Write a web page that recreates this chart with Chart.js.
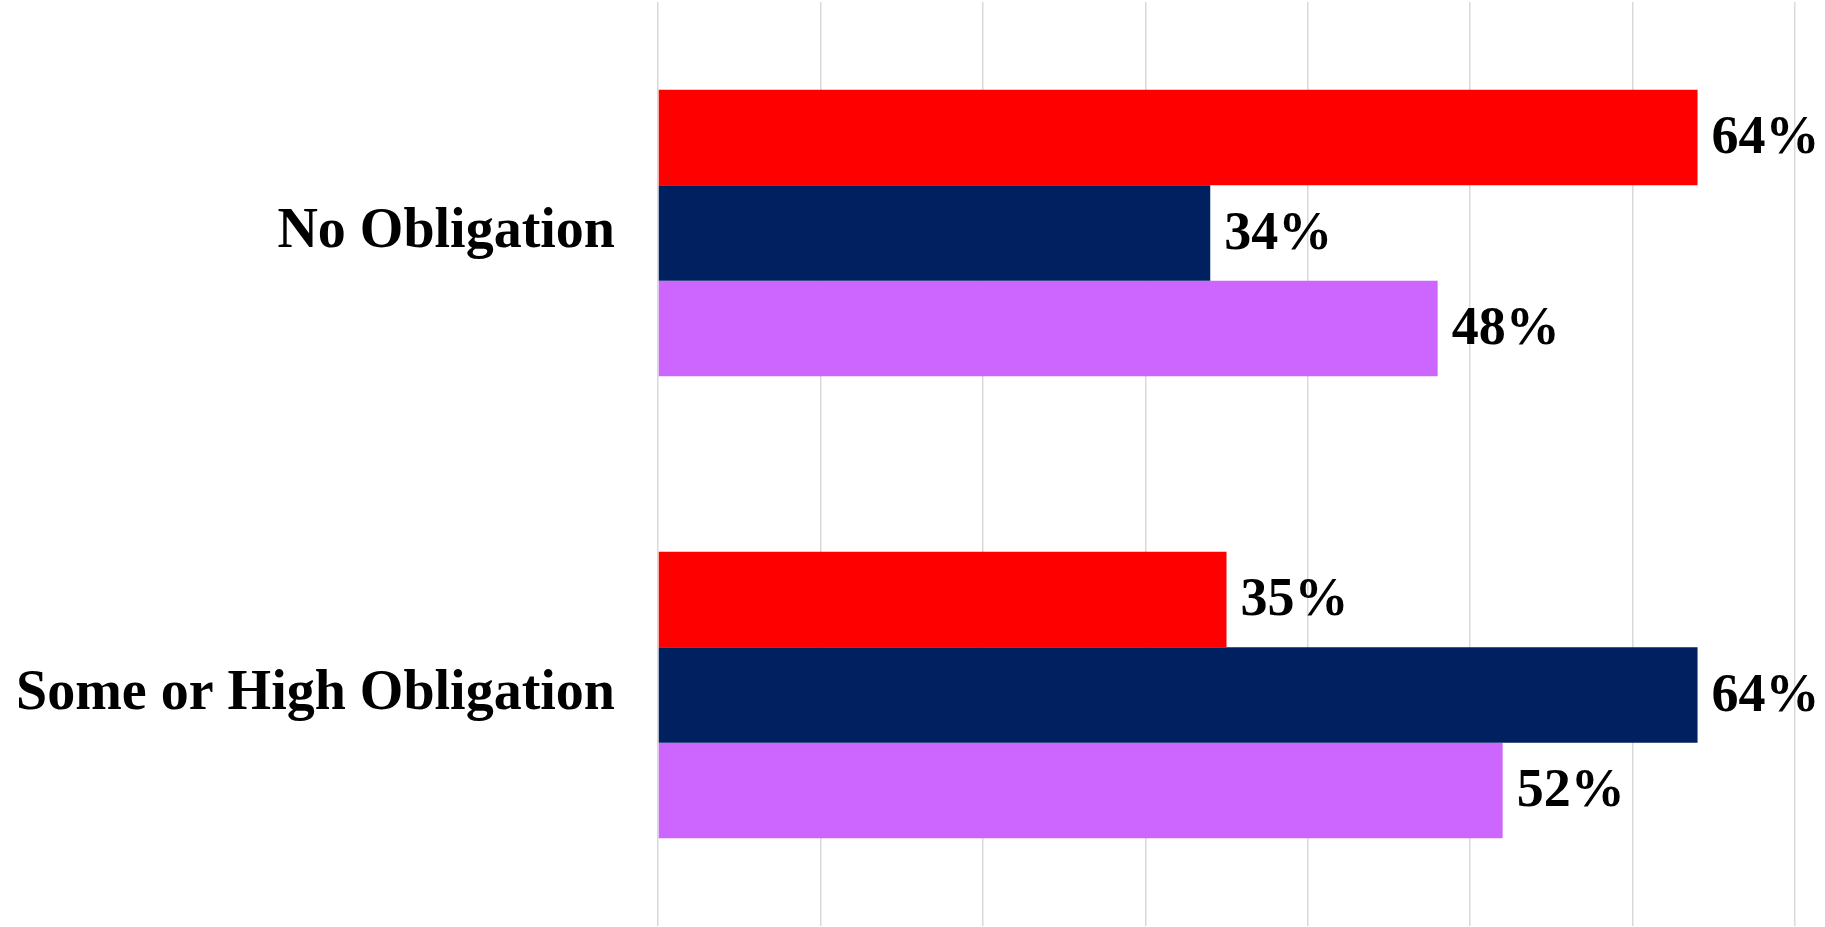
<!DOCTYPE html>
<html>
<head>
<meta charset="utf-8">
<script src="https://cdn.jsdelivr.net/npm/chart.js@4"></script>
<style>
  html, body { margin: 0; padding: 0; background: #fff; }
  #wrap { width: 1825px; height: 927px; position: relative; }
</style>
</head>
<body>
<div id="wrap"><canvas id="myChart"></canvas></div>
<script>
// categories and series values
var categories = ['No Obligation', 'Some or High Obligation'];
var seriesNames = ['Republicans', 'Democrats', 'Independents'];
var redValues = [64, 35];
var navyValues = [34, 64];
var purpleValues = [48, 52];
var colors = ['#FF0000', '#002060', '#CC66FF'];
var xTicks = [0, 10, 20, 30, 40, 50, 60, 70];

var serif = '"Liberation Serif", "Times New Roman", serif';

// draws the "64%" style labels at the end of each bar
var endLabels = {
    id: 'endLabels',
    afterDatasetsDraw: function (chart) {
        var ctx = chart.ctx;
        ctx.save();
        ctx.font = 'bold 54px ' + serif;
        ctx.fillStyle = '#000';
        ctx.textAlign = 'left';
        ctx.textBaseline = 'middle';
        chart.data.datasets.forEach(function (ds, i) {
            chart.getDatasetMeta(i).data.forEach(function (bar, j) {
                ctx.fillText(ds.data[j] + '%', bar.x + 14, bar.y + 2);
            });
        });
        ctx.restore();
    }
};

var ctx = document.getElementById('myChart').getContext('2d');
var chart = new Chart(ctx, {
    type: 'bar',
    data: {
        labels: categories,
        datasets: [
            { label: seriesNames[0], backgroundColor: colors[0], data: redValues },
            { label: seriesNames[1], backgroundColor: colors[1], data: navyValues },
            { label: seriesNames[2], backgroundColor: colors[2], data: purpleValues }
        ]
    },
    options: {
        indexAxis: 'y',
        responsive: true,
        maintainAspectRatio: false,
        animation: false,
        layout: { padding: { top: 2, bottom: 1, right: 30, left: 0 } },
        datasets: {
            bar: { barPercentage: 1, categoryPercentage: 0.62 }
        },
        plugins: {
            legend: { display: false },
            tooltip: { enabled: false }
        },
        scales: {
            x: {
                min: 0,
                max: 70,
                afterBuildTicks: function (scale) {
                    scale.ticks = xTicks.map(function (v) { return { value: v }; });
                },
                afterFit: function (scale) { scale.height = 0; },
                ticks: { display: false },
                border: { display: false },
                grid: { color: '#d9d9d9', lineWidth: 1.5, drawTicks: false }
            },
            y: {
                afterFit: function (scale) {
                    scale.width = 658;
                    scale.paddingTop = 0;
                    scale.paddingBottom = 0;
                },
                border: { display: false },
                grid: { display: false, drawTicks: false },
                ticks: {
                    color: '#000',
                    padding: 43,
                    font: { family: serif, size: 56, weight: 'bold' }
                }
            }
        }
    },
    plugins: [endLabels]
});
</script>
</body>
</html>
